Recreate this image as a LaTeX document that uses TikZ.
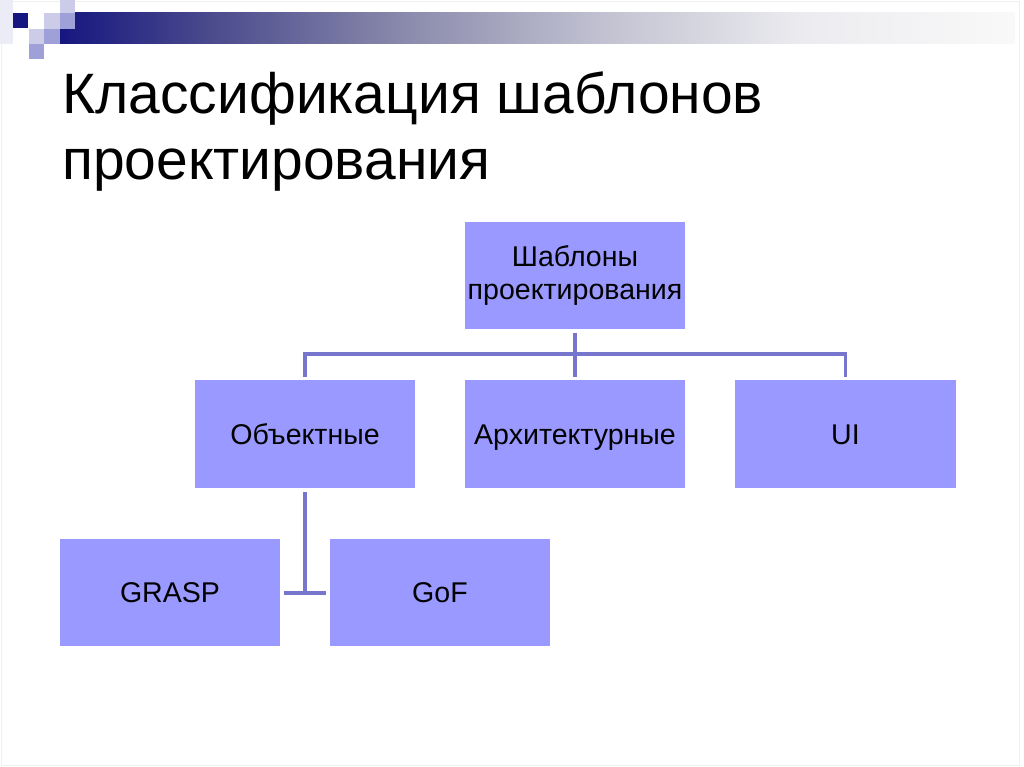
\documentclass[tikz,border=0pt]{standalone}
\usepackage{fontspec}
\setmainfont{Liberation Sans}
\usetikzlibrary{calc}
\usetikzlibrary{positioning}
\definecolor{periwinkle}{RGB}{153, 153, 255}
\definecolor{linkblue}{RGB}{118, 118, 204}
\definecolor{navyblock}{RGB}{22, 22, 128}
\definecolor{midblock}{RGB}{160, 160, 216}
\definecolor{paleblock}{RGB}{204, 204, 232}
\definecolor{faintblock}{RGB}{236, 236, 246}
\definecolor{barB}{RGB}{72, 72, 140}
\definecolor{barC}{RGB}{138, 138, 172}
\definecolor{barD}{RGB}{194, 194, 210}
\definecolor{barE}{RGB}{236, 236, 240}
\definecolor{barF}{RGB}{249, 249, 249}
\definecolor{slideedge}{RGB}{240, 240, 240}
\pgfdeclarehorizontalshading{titlebar}{100bp}{color(0bp)=(navyblock); color(25bp)=(navyblock); color(32.5bp)=(barB); color(43bp)=(barC); color(53.5bp)=(barD); color(64bp)=(barE); color(75bp)=(barF); color(100bp)=(barF)}
\tikzset{
  box/.style={fill=periwinkle, minimum width=5.5cm, minimum height=2.675cm, inner sep=0pt,
              align=center, font=\fontsize{20.3}{23.5}\selectfont},
  oneline/.style={box, text height=14.5pt, text depth=0pt},
  heading/.style={anchor=base west, inner sep=0pt, font=\fontsize{40.5}{48}\selectfont},
  link/.style={draw=linkblue, line width=2.6pt},
}
\begin{document}
\begin{tikzpicture}[x=0.025cm, y=-0.025cm]
            \useasboundingbox                                    (0, 0) rectangle (1024, 767);
            \fill[white]                                         (0, 0) rectangle (1024, 767);
            \draw[slideedge, line width=0.6pt]                   (1, 1) rectangle (1019, 765);
            \fill[faintblock]                                    (0, 0) rectangle (13, 44);
            \shade[shading=titlebar]                             (60,13) rectangle (1015, 44);
            \fill[navyblock]                                     (13,13) rectangle (28, 28);
            \fill[paleblock]                                     (60, 0) rectangle (75, 13);
            \fill[paleblock]                                     (44,13) rectangle (60, 29);
            \fill[midblock]                                      (60,13) rectangle (75, 29);
            \fill[paleblock]                                     (29,29) rectangle (44, 44);
            \fill[midblock]                                      (44,29) rectangle (60, 44);
            \fill[midblock]                                      (29,44) rectangle (44, 59);

            \node[heading] (title1) at (62,114) {Классификация шаблонов};
            \node[heading] (title2) at (62,180) {проектирования};

            \node[box]     (patterns) at (575,275.5) {Шаблоны\\проектирования};
            \node[oneline] (objects)  at (305,434)   {Объектные};
            \node[oneline] (arch)     at (575,434)   {Архитектурные};
            \node[oneline] (ui)       at (845.5,434) {UI};
            \node[oneline] (grasp)    at (170,592.5) {GRASP};
            \node[oneline] (gof)      at (440,592.5) {GoF};

            \coordinate (bus)  at (575,354);
            \coordinate (fork) at (305,593);
            \draw[link] ([yshift=-0.1cm]patterns.south) -- ([yshift=0.08cm]arch.north);
            \draw[link] ([yshift=0.08cm]objects.north) |- (bus) -| ([yshift=0.08cm]ui.north);
            \draw[link] ([yshift=-0.1cm]objects.south) -- (fork);
            \draw[link] ([xshift=0.08cm]grasp.east |- fork) -- ([xshift=-0.08cm]gof.west |- fork);
        \end{tikzpicture}
\end{document}
